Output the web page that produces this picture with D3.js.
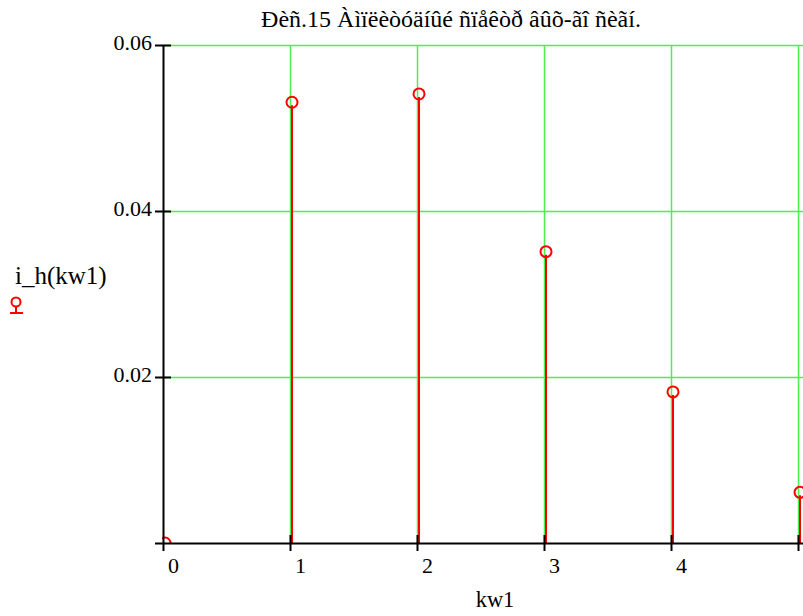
<!DOCTYPE html>
<html>
<head>
<meta charset="utf-8">
<script src="https://cdn.jsdelivr.net/npm/d3@7"></script>
<style>
  html, body { margin: 0; padding: 0; background: #fff; }
  svg { display: block; font-family: "Liberation Serif", "Times New Roman", serif; }
  .tick text { font-size: 22px; fill: #000; font-family: "Liberation Serif", "Times New Roman", serif; }
</style>
</head>
<body>
<div id="chart"></div>
<script>
(function () {
  "use strict";

  // Data
  const harmonics = [0, 1, 2, 3, 4, 5];
  const amplitudes = [0.0, 0.0531, 0.0541, 0.0351, 0.0182, 0.0061];
  const xTicks = [0, 1, 2, 3, 4, 5];
  const yTicks = [0.02, 0.04, 0.06];
  const title = "Ðèñ.15 Àìïëèòóäíûé ñïåêòð âûõ-ãî ñèãí.";
  const xLabel = "kw1";
  const yLabel = "i_h(kw1)";

  // Dimensions
  const totalW = 803;
  const totalH = 616;
  const margin = { top: 45, right: 5, bottom: 73, left: 163 };
  const width = totalW - margin.left - margin.right;
  const height = totalH - margin.top - margin.bottom;

  const RED = "#ff0000";
  const GREEN = "#4cf04c";
  const SERIF = "'Liberation Serif', 'Times New Roman', serif";

  const x = d3.scaleLinear().domain([0, 5]).range([0, width]);
  const y = d3.scaleLinear().domain([0, 0.06]).range([height, 0]);

  const svg = d3.select("#chart")
    .append("svg")
    .attr("width", totalW)
    .attr("height", totalH);

  svg.append("defs").append("clipPath").attr("id", "clip")
    .append("rect")
    .attr("x", -1).attr("y", -8)
    .attr("width", width + 10).attr("height", height + 9);

  const g = svg.append("g")
    .attr("transform", `translate(${margin.left},${margin.top})`);

  // Grid lines
  g.append("g").selectAll("line")
    .data(xTicks.filter(d => d > 0))
    .join("line")
    .attr("x1", d => Math.round(x(d)) + 0.5)
    .attr("x2", d => Math.round(x(d)) + 0.5)
    .attr("y1", y(0.06))
    .attr("y2", y(0))
    .attr("stroke", GREEN)
    .attr("stroke-width", 1.5);

  g.append("g").selectAll("line")
    .data(yTicks)
    .join("line")
    .attr("x1", 0)
    .attr("x2", width + 5)
    .attr("y1", d => Math.round(y(d)) + 0.5)
    .attr("y2", d => Math.round(y(d)) + 0.5)
    .attr("stroke", GREEN)
    .attr("stroke-width", 1.5);

  // Stems and markers
  const marks = g.append("g").attr("clip-path", "url(#clip)");
  const pts = harmonics.map((h, i) => ({ h, v: amplitudes[i] }));

  marks.selectAll("line")
    .data(pts.filter(d => d.v > 0))
    .join("line")
    .attr("x1", d => x(d.h) + 2)
    .attr("x2", d => x(d.h) + 2)
    .attr("y1", d => y(d.v) + 3)
    .attr("y2", y(0))
    .attr("stroke", RED)
    .attr("stroke-width", 2);

  marks.selectAll("circle")
    .data(pts)
    .join("circle")
    .attr("cx", d => x(d.h) + 2)
    .attr("cy", d => y(d.v))
    .attr("r", 5.5)
    .attr("fill", "none")
    .attr("stroke", RED)
    .attr("stroke-width", 2);

  // Axes
  const xAxis = g.append("g")
    .attr("transform", `translate(0,${height})`)
    .attr("font-family", SERIF)
    .call(d3.axisBottom(x)
      .tickValues(xTicks)
      .tickFormat(d3.format("d"))
      .tickSize(0)
      .tickPadding(14));
  xAxis.select(".domain").remove();
  xAxis.selectAll(".tick text").attr("dx", "0.45em");

  const yAxis = g.append("g")
    .attr("font-family", SERIF)
    .call(d3.axisLeft(y)
      .tickValues(yTicks)
      .tickFormat(d3.format(".2f"))
      .tickSize(0)
      .tickPadding(11));
  yAxis.select(".domain").remove();
  yAxis.selectAll(".tick text").attr("dy", "0.2em");

  // Axis lines and cross ticks
  g.append("line")
    .attr("x1", -8).attr("x2", width + 5)
    .attr("y1", height + 0.5).attr("y2", height + 0.5)
    .attr("stroke", "#000").attr("stroke-width", 2);
  g.append("line")
    .attr("x1", 0.5).attr("x2", 0.5)
    .attr("y1", y(0.06)).attr("y2", height + 8)
    .attr("stroke", "#000").attr("stroke-width", 2);

  g.append("g").selectAll("line")
    .data(xTicks.filter(d => d > 0))
    .join("line")
    .attr("x1", d => Math.round(x(d)) + 0.5)
    .attr("x2", d => Math.round(x(d)) + 0.5)
    .attr("y1", height - 8).attr("y2", height + 8)
    .attr("stroke", "#000").attr("stroke-width", 2);

  g.append("g").selectAll("line")
    .data(yTicks)
    .join("line")
    .attr("x1", -8).attr("x2", 8)
    .attr("y1", d => Math.round(y(d)) + 0.5)
    .attr("y2", d => Math.round(y(d)) + 0.5)
    .attr("stroke", "#000").attr("stroke-width", 2);

  // Title and labels
  svg.append("text")
    .attr("x", 451).attr("y", 27)
    .attr("text-anchor", "middle")
    .attr("font-size", 24)
    .text(title);

  svg.append("text")
    .attr("x", 495).attr("y", 607)
    .attr("text-anchor", "middle")
    .attr("font-size", 22.5)
    .text(xLabel);

  svg.append("text")
    .attr("x", 15).attr("y", 284)
    .attr("font-size", 25)
    .text(yLabel);

  // Legend symbol
  const leg = svg.append("g").attr("transform", "translate(16,302)");
  leg.append("circle").attr("r", 4.5).attr("fill", "none")
    .attr("stroke", RED).attr("stroke-width", 2);
  leg.append("line").attr("x1", 0).attr("x2", 0).attr("y1", 4).attr("y2", 11)
    .attr("stroke", RED).attr("stroke-width", 2);
  leg.append("line").attr("x1", -6).attr("x2", 7).attr("y1", 11).attr("y2", 11)
    .attr("stroke", RED).attr("stroke-width", 2);
})();
</script>
</body>
</html>
